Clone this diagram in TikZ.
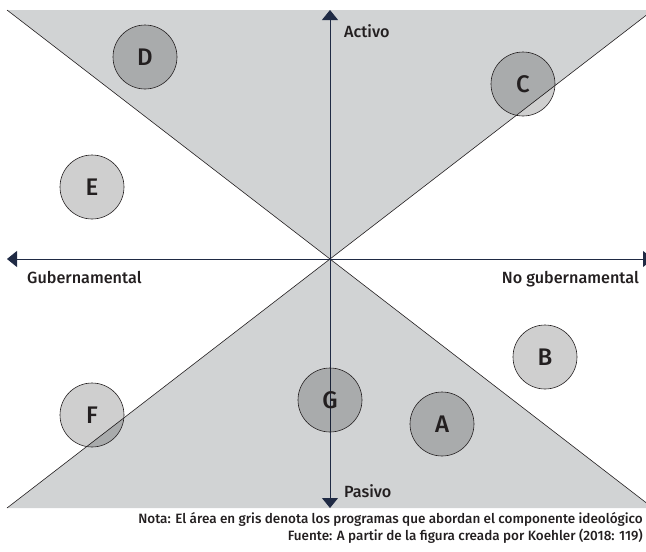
\documentclass[tikz,border=0pt]{standalone}
\usepackage{fontspec}
\setmainfont{Fira Sans}[UprightFont=* Medium]
\usetikzlibrary{arrows.meta}

\definecolor{axisblue}{HTML}{1F2A44}
\definecolor{zonegray}{HTML}{D1D3D4}
\definecolor{ink}{HTML}{231F20}

\tikzset{
  zone/.style={fill=zonegray, draw=none},
  diag/.style={draw=ink, line width=0.6pt},
  axis/.style={draw=axisblue, line width=0.8pt, -{Triangle[length=10pt,width=16pt]}},
  prog/.style={circle, draw=ink, line width=0.6pt, fill=black, fill opacity=0.19,
    text opacity=1, text=ink, minimum size=64pt, inner sep=0pt,
    font=\fontsize{24}{24}\selectfont},
  axislabel/.style={text=ink, inner sep=0pt, font=\fontsize{16.2}{16.2}\selectfont},
  note/.style={text=ink, inner sep=0pt, font=\fontsize{13.5}{13.5}\selectfont},
}

\begin{document}
\begin{tikzpicture}[x=1pt,y=-1pt]
\useasboundingbox (0,0) rectangle (646,552);
\clip (0,0) rectangle (646,552);

% gray zones
\coordinate (o) at (330,259);
\coordinate (nw) at (7,10);
\coordinate (ne) at (653,10);
\coordinate (sw) at (7,508);
\coordinate (se) at (653,508);
\fill[zone] (nw) -- (ne) -- (o) -- cycle;
\fill[zone] (sw) -- (se) -- (o) -- cycle;
\draw[diag] (nw) -- (se);
\draw[diag] (sw) -- (ne);

% axes
\coordinate (left) at (7,259);
\coordinate (right) at (653,259);
\coordinate (top) at (330,10);
\coordinate (bottom) at (330,508);
\draw[axis] (o) -- (left);
\draw[axis] (o) -- (right);
\draw[axis] (o) -- (top);
\draw[axis] (o) -- (bottom);

\node[axislabel, anchor=base west] (activo) at (344,37) {Activo};
\node[axislabel, anchor=base west] (pasivo) at (344,497) {Pasivo};
\node[axislabel, anchor=base west] (gub) at (27,283) {Gubernamental};
\node[axislabel, anchor=base east] (nogub) at (639,283) {No gubernamental};

% programas
\node[prog] (a) at (442,424) {A};
\node[prog] (b) at (545,357) {B};
\node[prog] (c) at (523,84) {C};
\node[prog] (d) at (145,57) {D};
\node[prog] (e) at (92,187) {E};
\node[prog] (f) at (92,415) {F};
\node[prog] (g) at (330,400) {G};

\node[note, anchor=base east] (nota) at (643,523)
  {Nota: El área en gris denota los programas que abordan el componente ideológico};
\node[note, anchor=base east] (fuente) at (643,540)
  {Fuente: A partir de la figura creada por Koehler (2018: 119)};
\end{tikzpicture}
\end{document}
